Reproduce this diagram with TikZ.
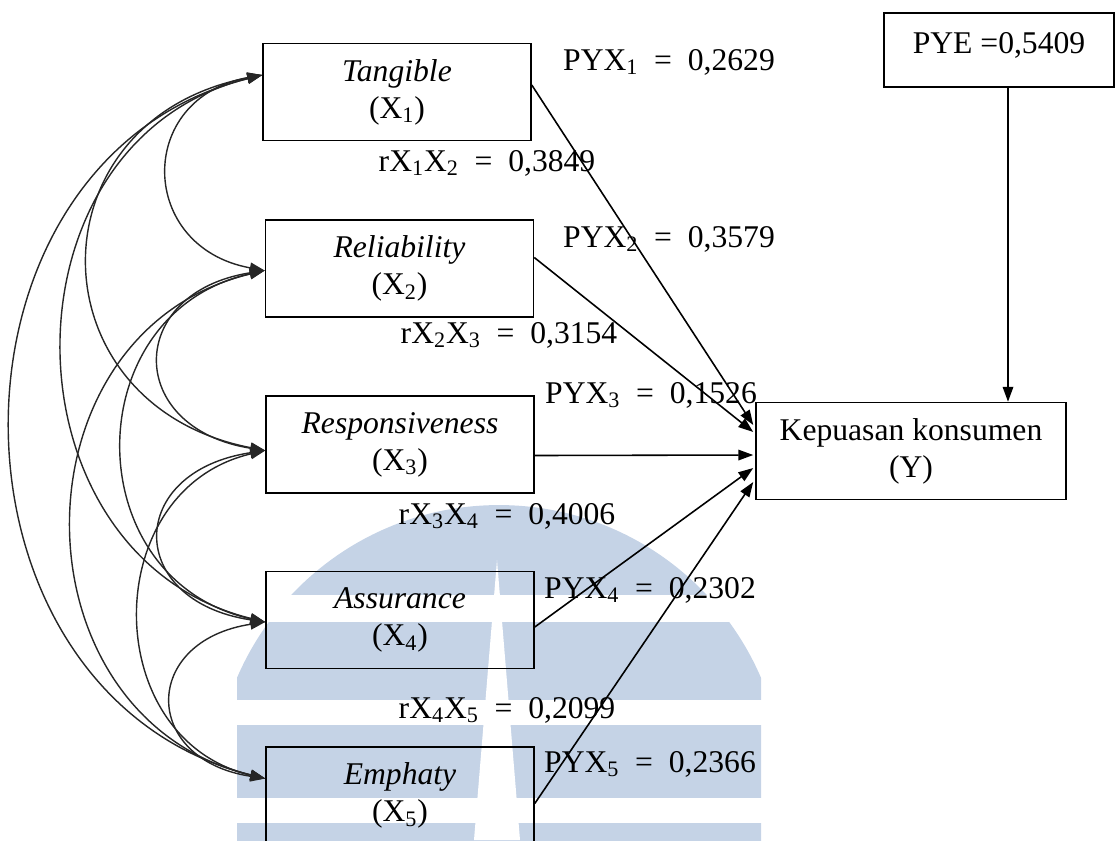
\documentclass[tikz,border=0pt]{standalone}
\usepackage{fontspec}
\setmainfont{Liberation Serif}
\usetikzlibrary{arrows.meta,calc}
\definecolor{wmblue}{RGB}{197,211,230}

\begin{document}
\begin{tikzpicture}[x=0.02cm,y=-0.02cm,
    every node/.style={font=\fontsize{18}{21}\selectfont},
    varbox/.style={draw,line width=0.9pt,minimum width=5.36cm,minimum height=1.94cm,inner sep=0pt,align=center},
    corr/.style={<->,line width=0.8pt,black!85},
    pathline/.style={->,line width=0.9pt},
    >={Triangle[length=8.5pt,width=6pt]}]

    \useasboundingbox (0,0) rectangle (1116,840);

    % watermark
    \begin{scope}
        \clip (237,0) rectangle (761,840);
        \fill[wmblue] (499,790) circle (5.7cm);
    \end{scope}
    \fill[white] (200,595) rectangle (800,622);
    \fill[white] (200,700) rectangle (800,725);
    \fill[white] (200,798) rectangle (800,823);
    \fill[white] (497,560) -- (474,840) -- (520,840) -- cycle;

    \node[varbox] at (397,92) (x1) {\textit{Tangible}\\(X\textsubscript{1})};
    \node[varbox] at (399.5,268.5) (x2) {\textit{Reliability}\\(X\textsubscript{2})};
    \node[varbox] at (400,444.5) (x3) {\textit{Responsiveness}\\(X\textsubscript{3})};
    \node[varbox] at (400,620) (x4) {\textit{Assurance}\\(X\textsubscript{4})};
    \node[varbox] at (400,795.5) (x5) {\textit{Emphaty}\\(X\textsubscript{5})};
    \node[varbox,minimum width=6.2cm] at (911,451) (y) {Kepuasan konsumen\\(Y)};
    \node[varbox,minimum width=4.6cm,minimum height=1.48cm,text height=12.6pt,text depth=8.5pt] at (999,50) (e) {PYE =0,5409};

    \node at (669,62) (pyx1) {PYX\textsubscript{1}\ \ =\ \ 0,2629};
    \node at (669,239) (pyx2) {PYX\textsubscript{2}\ \ =\ \ 0,3579};
    \node at (651,395) (pyx3) {PYX\textsubscript{3}\ \ =\ \ 0,1526};
    \node at (650,590) (pyx4) {PYX\textsubscript{4}\ \ =\ \ 0,2302};
    \node at (650,764) (pyx5) {PYX\textsubscript{5}\ \ =\ \ 0,2366};

    \node at (487,163) (r12) {rX\textsubscript{1}X\textsubscript{2}\ \ =\ \ 0,3849};
    \node at (509,335) (r23) {rX\textsubscript{2}X\textsubscript{3}\ \ =\ \ 0,3154};
    \node at (507,516) (r34) {rX\textsubscript{3}X\textsubscript{4}\ \ =\ \ 0,4006};
    \node at (507,710) (r45) {rX\textsubscript{4}X\textsubscript{5}\ \ =\ \ 0,2099};

    \coordinate (t1) at ($(x1.west)+(0,-17)$);
    \coordinate (t2) at ($(x2.west)+(0,2)$);
    \coordinate (t3) at ($(x3.west)+(0,6)$);
    \coordinate (t4) at ($(x4.west)+(0,2)$);
    \coordinate (t5) at ($(x5.west)+(0,-17)$);

    % correlations
    \draw[corr] (t1) .. controls +(-127,23) and +(-127,-23) .. (t2);
    \draw[corr] (t1) .. controls +(-233,45) and +(-233,-45) .. (t3);
    \draw[corr] (t1) .. controls +(-267,66) and +(-267,-66) .. (t4);
    \draw[corr] (t1) .. controls +(-336,84) and +(-336,-84) .. (t5);
    \draw[corr] (t2) .. controls +(-140,22) and +(-140,-22) .. (t3);
    \draw[corr] (t2) .. controls +(-189,42) and +(-189,-42) .. (t4);
    \draw[corr] (t2) .. controls +(-256,61) and +(-256,-61) .. (t5);
    \draw[corr] (t3) .. controls +(-140,21) and +(-140,-21) .. (t4);
    \draw[corr] (t3) .. controls +(-167,39) and +(-167,-39) .. (t5);
    \draw[corr] (t4) .. controls +(-124,19) and +(-124,-19) .. (t5);

    % paths to Y
    \draw[pathline] ($(x1.east)+(0,-7)$) -- ($(y.west)+(-2,-26)$);
    \draw[pathline] ($(x2.east)+(0,-11)$) -- ($(y.west)+(-2,-19)$);
    \draw[pathline] ($(x3.east)+(0,11)$) -- ($(y.west)+(-2,4)$);
    \draw[pathline] ($(x4.east)+(0,7)$) -- ($(y.west)+(-2,17)$);
    \draw[pathline] ($(x5.east)+(0,8)$) -- ($(y.west)+(-2,31)$);

    \coordinate (ps) at ($(e.south)+(9,0)$);
    \draw[pathline] (ps) -- (ps |- y.north);

\end{tikzpicture}
\end{document}
